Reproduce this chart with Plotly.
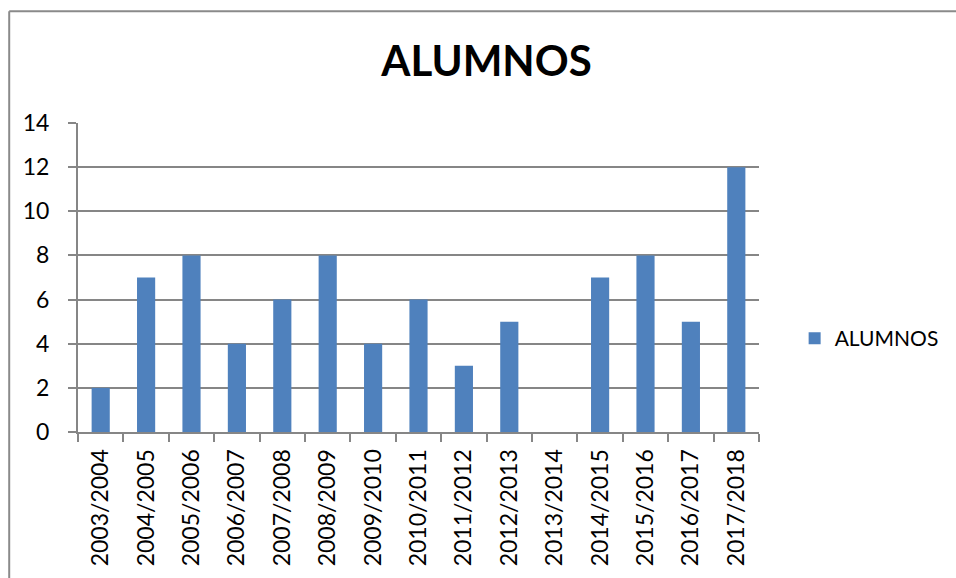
import plotly.graph_objects as go

cursos = ["2003/2004", "2004/2005", "2005/2006", "2006/2007", "2007/2008",
          "2008/2009", "2009/2010", "2010/2011", "2011/2012", "2012/2013",
          "2013/2014", "2014/2015", "2015/2016", "2016/2017", "2017/2018"]
alumnos = [2, 7, 8, 4, 6, 8, 4, 6, 3, 5, 0, 7, 8, 5, 12]
y_ticks = [0, 2, 4, 6, 8, 10, 12, 14]

W, H = 956, 578
L, R, T, B = 78, 190, 123, 144
FONT = "Lato"
GRID = "#868686"

fig = go.Figure()
fig.add_trace(go.Bar(x=cursos, y=alumnos, name="ALUMNOS",
                     marker=dict(color="#4F81BD", line=dict(width=0))))

pw, ph = W - L - R, H - T - B
bx0 = (8.5 - L) / pw
by1 = 1 + (T - 10.5) / ph

fig.update_layout(
    width=W, height=H,
    margin=dict(l=L, r=R, t=T, b=B, pad=0),
    paper_bgcolor="white", plot_bgcolor="white",
    font=dict(family=FONT, color="black"),
    title=dict(text="<b>ALUMNOS</b>", x=(385 + 588) / 2 / W, xanchor="center",
               y=1 - 61 / H, yanchor="middle", yref="container",
               font=dict(family=FONT, size=42, color="black")),
    bargap=0.6,
    showlegend=True,
    legend=dict(x=(802 - L) / pw, xanchor="left", y=1 - (340 - T) / ph, yanchor="middle",
                font=dict(family=FONT, size=21, color="black"),
                itemsizing="constant", bgcolor="rgba(0,0,0,0)"),
    xaxis=dict(type="category", tickangle=-90, tickfont=dict(size=23, family=FONT),
               showline=True, linecolor=GRID, linewidth=2,
               ticks="outside", tickson="boundaries", ticklen=8, tickcolor=GRID, tickwidth=2,
               showgrid=False, ticklabelstandoff=6),
    yaxis=dict(range=[0, 14], tickvals=y_ticks, tickfont=dict(size=23, family=FONT),
               showline=True, linecolor=GRID, linewidth=2,
               showgrid=True, gridcolor=GRID, gridwidth=2,
               ticks="outside", ticklen=8, tickcolor=GRID, tickwidth=2,
               zeroline=False, ticklabelstandoff=14),
    shapes=[
        dict(type="line", xref="paper", yref="paper", x0=bx0, x1=bx0, y0=by1, y1=-2,
             line=dict(color="#8a8a8a", width=2)),
        dict(type="line", xref="paper", yref="paper", x0=bx0, x1=3, y0=by1, y1=by1,
             line=dict(color="#8a8a8a", width=2)),
    ],
)

fig.write_html("out.html", config={"displayModeBar": False},
               post_script="document.body.style.margin='0';document.body.style.overflow='hidden';")
